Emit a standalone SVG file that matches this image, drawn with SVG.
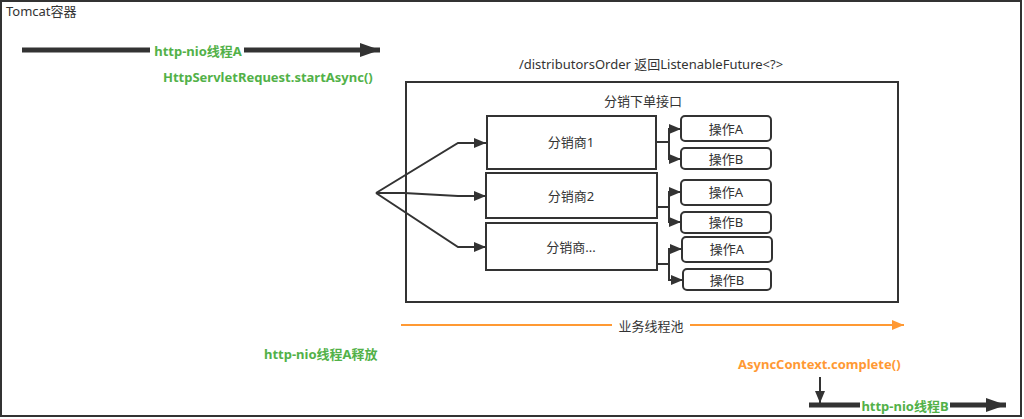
<svg xmlns="http://www.w3.org/2000/svg" width="1024" height="419" viewBox="0 0 1024 419">
<style>
text{font-family:"Noto Sans","Noto Sans CJK SC",sans-serif;font-size:13px;fill:#333}
.g{fill:#52b148;font-weight:bold}
.o{fill:#ff9933;font-weight:bold}
.box{fill:#fff;stroke:#333;stroke-width:2}
.ln{fill:none;stroke:#333;stroke-width:2}
.c{text-anchor:middle;dominant-baseline:central}
</style>
<defs>
<marker id="ah" viewBox="0 0 12 10" refX="12" refY="5" markerWidth="12" markerHeight="10" markerUnits="userSpaceOnUse" orient="auto"><path d="M0,0 L12,5 L0,10 Z" fill="#333"/></marker>
<marker id="ahb" viewBox="0 0 20 14" refX="20" refY="7" markerWidth="20" markerHeight="14" markerUnits="userSpaceOnUse" orient="auto"><path d="M0,0 L20,7 L0,14 Z" fill="#333"/></marker>
<marker id="aho" viewBox="0 0 12 10" refX="12" refY="5" markerWidth="12" markerHeight="10" markerUnits="userSpaceOnUse" orient="auto"><path d="M0,0 L12,5 L0,10 Z" fill="#ff9933"/></marker>
</defs>
<rect width="1024" height="419" fill="#fff"/>
<g id="tomcat">
<rect x="1" y="1" width="1020" height="415" fill="none" stroke="#333" stroke-width="2"/>
<text x="6" y="16">Tomcat容器</text>
</g>
<g id="api">
<text x="651" y="69" text-anchor="middle">/distributorsOrder 返回ListenableFuture&lt;?&gt;</text>
<rect class="box" x="406" y="82" width="492" height="220"/>
<text x="643" y="106" text-anchor="middle">分销下单接口</text>
</g>
<g id="dist1"><rect class="box" x="487" y="116" width="169" height="53"/><text class="c" x="571" y="142">分销商1</text></g>
<g id="dist2"><rect class="box" x="486" y="173" width="171" height="45"/><text class="c" x="571" y="196">分销商2</text></g>
<g id="dist3"><rect class="box" x="486" y="223" width="171" height="47"/><text class="c" x="571" y="247">分销商...</text></g>
<g id="op1a"><rect class="box" x="681" y="116" width="90" height="25" rx="4"/><text class="c" x="726" y="129">操作A</text></g>
<g id="op1b"><rect class="box" x="681" y="148" width="90" height="21" rx="4"/><text class="c" x="726" y="159">操作B</text></g>
<g id="op2a"><rect class="box" x="681" y="180" width="90" height="25" rx="4"/><text class="c" x="726" y="192">操作A</text></g>
<g id="op2b"><rect class="box" x="681" y="212" width="90" height="21" rx="4"/><text class="c" x="726" y="222">操作B</text></g>
<g id="op3a"><rect class="box" x="682" y="237" width="90" height="25" rx="4"/><text class="c" x="727" y="249">操作A</text></g>
<g id="op3b"><rect class="box" x="683" y="269" width="88" height="21" rx="4"/><text class="c" x="727" y="280">操作B</text></g>
<g id="connectors">
<path class="ln" d="M376,193 L458,143 L486,143" marker-end="url(#ah)"/>
<path class="ln" d="M376,193 L404,193 L458,196 L486,196" marker-end="url(#ah)"/>
<path class="ln" d="M376,193 L458,247 L486,247" marker-end="url(#ah)"/>
<path class="ln" d="M656,142 L669,142 L669,129 L681,129" marker-end="url(#ah)"/>
<path class="ln" d="M656,142 L669,142 L669,159 L681,159" marker-end="url(#ah)"/>
<path class="ln" d="M657,207 L669,207 L669,192 L681,192" marker-end="url(#ah)"/>
<path class="ln" d="M657,207 L669,207 L669,222 L681,222" marker-end="url(#ah)"/>
<path class="ln" d="M657,264 L669,264 L669,249 L682,249" marker-end="url(#ah)"/>
<path class="ln" d="M657,264 L669,264 L669,280 L683,280" marker-end="url(#ah)"/>
<path d="M22,50 L380,50" stroke="#333" stroke-width="5" fill="none" marker-end="url(#ahb)"/>
<rect x="150" y="42" width="94" height="17" fill="#fff"/>
<text class="g c" x="198" y="51">http-nio线程A</text>
<path d="M401,325 L904,325" stroke="#ff9933" stroke-width="2" fill="none" marker-end="url(#aho)"/>
<rect x="612" y="317" width="78" height="17" fill="#fff"/>
<text class="c" x="651" y="326">业务线程池</text>
<path class="ln" d="M820,377 L820,403" marker-end="url(#ah)"/>
<path d="M809,405 L1006,405" stroke="#333" stroke-width="5" fill="none" marker-end="url(#ahb)"/>
<rect x="860" y="397" width="90" height="17" fill="#fff"/>
<text class="g c" x="905" y="406">http-nio线程B</text>
</g>
<text class="g" x="163" y="82">HttpServletRequest.startAsync()</text>
<text class="g" x="264" y="359">http-nio线程A释放</text>
<text class="o" x="738" y="369">AsyncContext.complete()</text>
</svg>
